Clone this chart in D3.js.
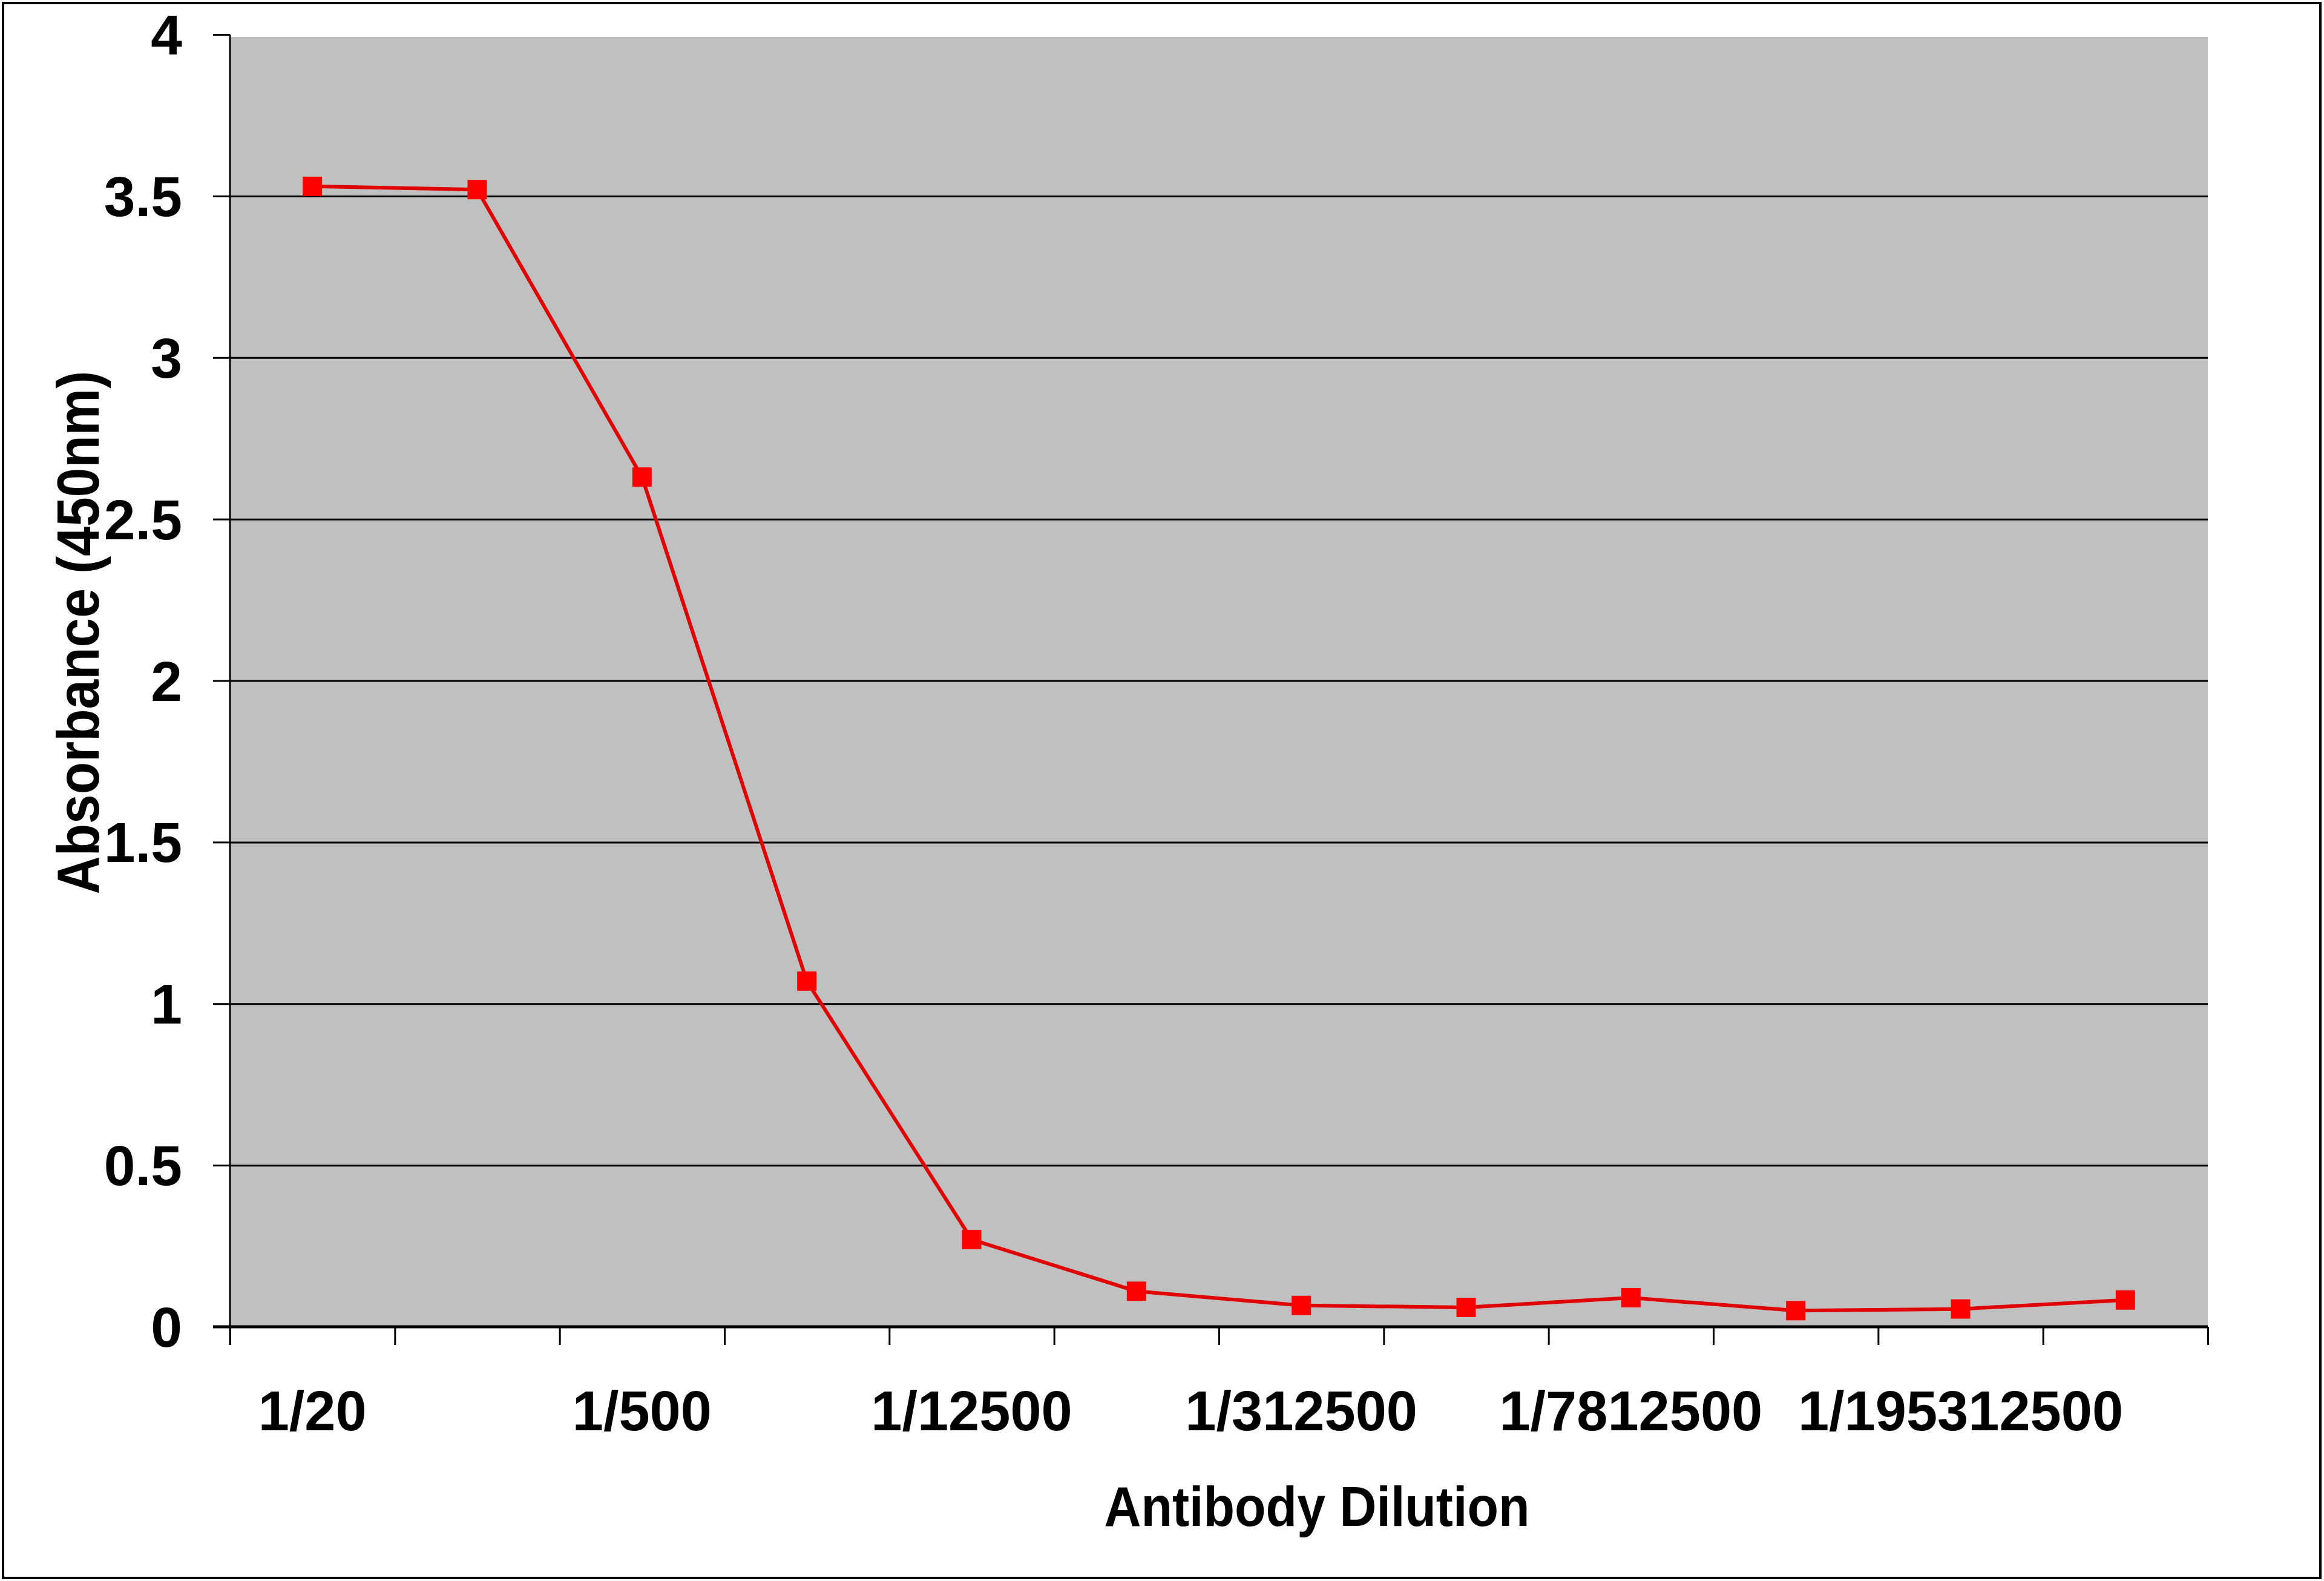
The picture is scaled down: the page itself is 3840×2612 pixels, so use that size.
<!DOCTYPE html>
<html>
<head>
<meta charset="utf-8">
<script src="https://cdn.jsdelivr.net/npm/d3@7"></script>
<style>
  body { margin: 0; background: #fff; }
  svg { display: block; }
</style>
</head>
<body>
<script>
// data
const dilutions = ['1/20', '1/100', '1/500', '1/2500', '1/12500', '1/62500', '1/312500',
  '1/1562500', '1/7812500', '1/39062500', '1/195312500', '1/976562500']
const absorbance = [3.53, 3.52, 2.63, 1.07, 0.27, 0.11, 0.066, 0.06, 0.09, 0.05, 0.055, 0.083]
const yTicks = [0, 0.5, 1, 1.5, 2, 2.5, 3, 3.5, 4]
const gridTicks = [0.5, 1, 1.5, 2, 2.5, 3, 3.5]
const xTitle = 'Antibody Dilution'
const yTitle = 'Absorbance (450nm)'

const width = 3840
const height = 2612
const plot = { left: 380, right: 3648, top: 57, bottom: 2192 }
const font = "'Liberation Sans', Arial, sans-serif"
const red = '#ff0000'

const svg = d3.select('body').append('svg')
  .attr('width', width).attr('height', height)

svg.append('rect').attr('width', width).attr('height', height).attr('fill', '#fff')

// outer chart border
svg.append('rect')
  .attr('x', 5).attr('y', 5)
  .attr('width', 3829).attr('height', 2602)
  .attr('fill', 'none').attr('stroke', '#000').attr('stroke-width', 4)

const x = d3.scaleBand().domain(dilutions).range([plot.left, plot.right])
const xEdge = d3.scaleLinear().domain([0, dilutions.length]).range([plot.left, plot.right])
const y = d3.scaleLinear().domain([0, 4]).range([plot.bottom, plot.top])

// grey plot area
svg.append('rect')
  .attr('x', plot.left).attr('y', y(4) + 4)
  .attr('width', plot.right - plot.left).attr('height', plot.bottom - y(4) - 4)
  .attr('fill', '#c0c0c0')

// gridlines
const grid = svg.append('g')
  .attr('transform', `translate(${plot.left},0)`)
  .call(d3.axisLeft(y).tickValues(gridTicks).tickSize(-(plot.right - plot.left)).tickFormat(''))
grid.select('.domain').remove()
grid.selectAll('line').attr('stroke', '#000').attr('stroke-width', 3)

// y axis
const yAxis = svg.append('g')
  .attr('transform', `translate(${plot.left},0)`)
  .call(d3.axisLeft(y).tickValues(yTicks).tickSize(28).tickPadding(51).tickFormat(d => String(d)))
yAxis.select('.domain').attr('stroke', '#000').attr('stroke-width', 3)
  .attr('d', `M0,${y(4)}V${plot.bottom + 30}`)
yAxis.selectAll('line').attr('stroke', '#000').attr('stroke-width', 3)
yAxis.selectAll('text')
  .attr('font-family', font).attr('font-size', 93).attr('font-weight', 'bold')
  .attr('fill', '#000').attr('dy', '0.35em')

// x axis: ticks on category edges
const xAxis = svg.append('g')
  .attr('transform', `translate(0,${plot.bottom})`)
  .call(d3.axisBottom(xEdge).ticks(dilutions.length).tickSize(30).tickFormat(''))
xAxis.select('.domain').attr('stroke', '#000').attr('stroke-width', 5)
  .attr('d', `M${plot.left - 28},0H${plot.right}`)
xAxis.selectAll('line').attr('stroke', '#000').attr('stroke-width', 3)

// x labels: every other category, as in the reference
const xLabels = svg.append('g')
  .attr('transform', `translate(0,${plot.bottom})`)
  .call(d3.axisBottom(x).tickSize(0).tickPadding(0)
    .tickFormat((d, i) => i % 2 === 0 ? d : ''))
xLabels.select('.domain').remove()
xLabels.selectAll('text')
  .attr('font-family', font).attr('font-size', 92).attr('font-weight', 'bold')
  .attr('fill', '#000').attr('y', 171).attr('dy', 0)

// series line
const line = d3.line()
  .x((d, i) => x(dilutions[i]) + x.bandwidth() / 2)
  .y(d => y(d))

svg.append('path')
  .datum(absorbance)
  .attr('d', line)
  .attr('fill', 'none')
  .attr('stroke', '#e00000')
  .attr('stroke-width', 6)
  .attr('stroke-linejoin', 'round')

const markerSize = 32
svg.append('g').selectAll('rect')
  .data(absorbance)
  .join('rect')
  .attr('x', (d, i) => x(dilutions[i]) + x.bandwidth() / 2 - markerSize / 2)
  .attr('y', d => y(d) - markerSize / 2)
  .attr('width', markerSize).attr('height', markerSize)
  .attr('fill', red)

// axis titles
svg.append('text')
  .attr('x', 2176).attr('y', 2521)
  .attr('text-anchor', 'middle')
  .attr('font-family', font).attr('font-size', 93).attr('font-weight', 'bold')
  .attr('textLength', 703).attr('lengthAdjust', 'spacingAndGlyphs')
  .text(xTitle)

svg.append('text')
  .attr('transform', 'translate(163,1045) rotate(-90)')
  .attr('text-anchor', 'middle')
  .attr('font-family', font).attr('font-size', 98).attr('font-weight', 'bold')
  .attr('textLength', 865).attr('lengthAdjust', 'spacingAndGlyphs')
  .text(yTitle)
</script>
</body>
</html>
